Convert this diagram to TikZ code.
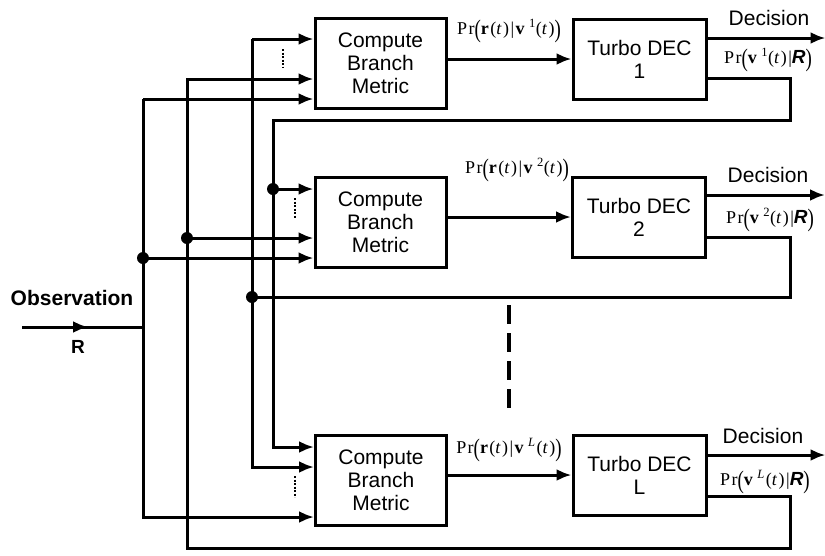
\documentclass[tikz,border=0pt]{standalone}
\usepackage{fontspec}
\setmainfont{Liberation Sans}
\setsansfont{Liberation Sans}
\newfontfamily\prfont[LetterSpace=8]{Liberation Serif}
\newfontfamily\rfont{Liberation Sans}
\usetikzlibrary{arrows.meta,calc}
\newcommand{\bpl}{\raisebox{-0.16em}{\scalebox{1.05}[1.4]{(}}}
\newcommand{\bpr}{\raisebox{-0.16em}{\scalebox{1.05}[1.4]{)}}}
\newcommand{\PRr}[1]{{\prfont Pr\bpl\textbf{r}(\textit{t})|\textbf{v}\,\textsuperscript{#1}(\textit{t})\bpr}}
\newcommand{\PRv}[1]{{\prfont Pr\bpl\textbf{v}\,\textsuperscript{#1}(\textit{t})|{\rfont\bfseries\itshape\fontsize{19}{20}\selectfont R}\bpr}}
\tikzset{
  line/.style={line width=3pt},
  arr/.style={line width=3pt,-{Latex[length=15pt,width=12pt]}},
  cbox/.style={draw,line width=3pt,minimum width=131pt,minimum height=90pt,align=center,
     font=\fontsize{21}{23}\selectfont,inner sep=0pt},
  dbox/.style={cbox,minimum width=133pt,minimum height=80pt},
  jdot/.style={circle,fill,inner sep=0pt,minimum size=12pt},
  lab/.style={font=\fontsize{21}{23}\selectfont,inner sep=0pt},
  prlab/.style={font=\fontsize{18}{20}\selectfont,inner sep=0pt},
  dotl/.style={line width=1.8pt,dash pattern=on 2pt off 1.5pt},
  bigdash/.style={line width=3.4pt,dash pattern=on 19pt off 9pt}
}
\begin{document}
\begin{tikzpicture}[x=1pt,y=-1pt]
\useasboundingbox (0,0) rectangle (825,555);
% boxes
\node[cbox] (cbm1) at (380.5,63) {Compute\\Branch\\Metric};
\node[cbox] (cbm2) at (380.5,222.5) {Compute\\Branch\\Metric};
\node[cbox] (cbmL) at (381,480) {Compute\\Branch\\Metric};
\node[dbox] (dec1) at (639.5,59) {Turbo DEC\\1};
\node[dbox] (dec2) at (639,217) {Turbo DEC\\2};
\node[dbox] (decL) at (639.5,475) {Turbo DEC\\L};
% cbm -> dec
\draw[arr] (cbm1.east |- dec1.west) -- (dec1.west);
\draw[arr] (cbm2.east |- dec2.west) -- (dec2.west);
\draw[arr] (cbmL.east |- decL.west) -- (decL.west);
% decisions
\draw[arr] ($(dec1.east)+(0,-21)$) -- ($(dec1.east)+(118,-21)$);
\draw[arr] ($(dec2.east)+(0,-22)$) -- ($(dec2.east)+(118,-22)$);
\draw[arr] ($(decL.east)+(0,-20)$) -- ($(decL.east)+(118,-20)$);
% observation
\coordinate (obs) at (22,327);
\coordinate (obsm) at (88,327);
\coordinate (obsj) at (143,327);
\draw[line] (obs) -- (obsj);
\draw[arr] (obs) -- (obsm);
% bus A
\coordinate (a1) at (143,99);
\coordinate (ad) at (143,258);
\coordinate (a2) at (143,517);
\draw[arr] (a1) -- (cbm1.west |- a1);
\draw[arr] (a1) -- (a2) -- (cbmL.west |- a2);
\draw[arr] (ad) -- (cbm2.west |- ad);
% bus B (feedback L)
\coordinate (b1) at (187,79);
\coordinate (bd) at (187,238);
\coordinate (b2) at (187,548);
\coordinate (fL) at (790,548);
\draw[arr] ($(decL.east)+(0,21)$) -| (fL) -- (b2) -- (b1) -- (cbm1.west |- b1);
\draw[arr] (bd) -- (cbm2.west |- bd);
% bus C (feedback 2)
\coordinate (c1) at (252,39);
\coordinate (cd) at (252,297);
\coordinate (c2) at (252,467);
\coordinate (f2) at (790,297);
\draw[arr] (c1) -- (cbm1.west |- c1);
\draw[arr] (c1) -- (c2) -- (cbmL.west |- c2);
\draw[line] ($(dec2.east)+(0,20)$) -| (f2) -- (cd);
% bus D (feedback 1)
\coordinate (d1) at (273,120);
\coordinate (dd) at (273,189);
\coordinate (d2) at (273,447);
\coordinate (f1) at (790,120);
\draw[arr] ($(dec1.east)+(0,19)$) -| (f1) -- (d1) -- (d2) -- (cbmL.west |- d2);
\draw[arr] (dd) -- (cbm2.west |- dd);
% junction dots
\node[jdot] (jA) at (ad) {};
\node[jdot] (jB) at (bd) {};
\node[jdot] (jC) at (cd) {};
\node[jdot] (jD) at (dd) {};
% small dotted marks
\draw[dotl] (283,49) -- (283,67);
\draw[dotl] (295,198) -- (295,219);
\draw[dotl] (295,476) -- (295,497);
% big dashed
\draw[bigdash] (509,305) -- (509,408);
% labels
\node[prlab] (p1) at (509,31) {\PRr{1}};
\node[prlab] (p2) at (517,170) {\PRr{2}};
\node[prlab] (pL) at (509,450) {\PRr{\textit{L}}};
\node[lab] (d1l) at (769,17.5) {Decision};
\node[lab] (d2l) at (768,175) {Decision};
\node[lab] (dLl) at (763,436) {Decision};
\node[prlab] (q1) at (768,60) {\PRv{1}};
\node[prlab] (q2) at (770,220) {\PRv{2}};
\node[prlab] (qL) at (765,482) {\PRv{\textit{L}}};
\node[lab,font=\fontsize{21}{23}\selectfont\bfseries] (obl) at (72,298) {Observation};
\node[lab,font=\fontsize{19}{22}\selectfont\bfseries] (rl) at (78,347) {R};
\end{tikzpicture}
\end{document}
